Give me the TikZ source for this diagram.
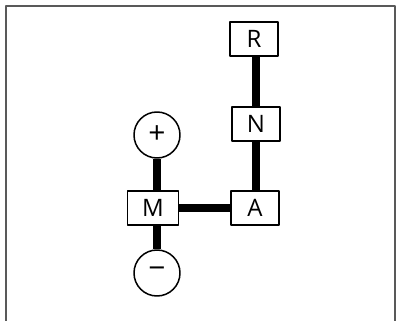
\documentclass[tikz,border=0pt]{standalone}
\usepackage{fontspec}
\setmainfont{Open Sans}
\begin{document}
\begin{tikzpicture}[
        x=1pt, y=-1pt,
        line join=round,
        gearbox/.style={draw, line width=1.5pt, minimum width=48pt, minimum height=34pt,
            inner sep=0pt, font=\fontsize{24}{26}\selectfont},
        gearcircle/.style={draw, circle, line width=1.5pt, minimum size=46pt,
            inner sep=0pt, font=\fontsize{30}{32}\selectfont},
        rail/.style={line width=8pt},
    ]
    % 外框与边界
    \useasboundingbox (0,0) rectangle (400,321);
    \fill[white] (0,0) rectangle (400,321);
    \draw[line width=1.5pt, black!65] (6,330) -- (6,6) -- (395,6) -- (395,330);

    % 档位
    \node[gearbox] (R) at (254,39) {R};
    \node[gearbox] (N) at (256,124) {N};
    \node[gearbox] (A) at (255,208) {A};
    \node[gearbox, minimum width=51pt] (M) at (153,208) {M};
    \node[gearcircle] (plus) at (157,135) {+};
    \node[gearcircle] (minus) at (157,273) {\symbol{"2212}};

    % 连接杆
    \draw[rail] (N.north) -- (N.north |- R.south);
    \draw[rail] (N.south) -- (N.south |- A.north);
    \draw[rail] (M) -- (A);
    \draw[rail] (plus) -- (plus |- M.north);
    \draw[rail] (plus |- M.south) -- (minus);
\end{tikzpicture}
\end{document}
